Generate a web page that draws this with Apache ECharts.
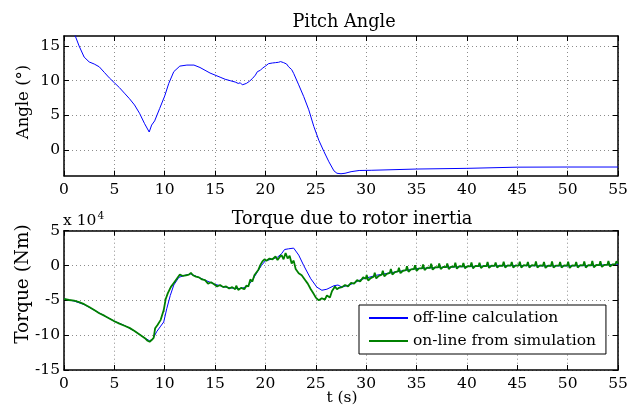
<!DOCTYPE html>
<html>
<head>
<meta charset="utf-8">
<script src="https://cdn.jsdelivr.net/npm/echarts@6/dist/echarts.min.js"></script>
<style>
html,body{margin:0;padding:0;background:#fff;}
#c{width:642px;height:408px;}
</style>
</head>
<body>
<div id="c"></div>
<script>
// ---- data ----
const xTicks = [0,5,10,15,20,25,30,35,40,45,50,55];
const pitchTicks = [0,5,10,15];
const torqueTicks = [-15,-10,-5,0,5];

const pitchAngle = [
 [0,20.0],[0.5,18.4],[1.0,16.9],[1.5,15.0],[2.0,13.4],[2.5,12.7],[3.0,12.4],[3.5,12.0],
 [4.0,11.2],[4.5,10.4],[5.0,9.7],[5.5,9.0],[6.0,8.2],[6.5,7.4],[7.0,6.5],[7.5,5.3],
 [8.0,3.8],[8.46,2.6],[8.7,3.6],[9.0,4.2],[9.5,6.0],[10.0,7.8],[10.4,9.6],[10.9,11.3],
 [11.5,12.1],[12.2,12.25],[12.9,12.25],[13.5,11.9],[14.0,11.5],[14.5,11.1],[15.0,10.8],
 [15.5,10.5],[16.0,10.2],[16.5,10.0],[17.0,9.8],[17.3,9.6],[17.5,9.7],[17.7,9.4],[18.1,9.6],
 [18.4,9.9],[18.7,10.3],[19.0,10.8],[19.2,11.3],[19.5,11.5],[19.7,11.8],[20.0,12.1],
 [20.3,12.45],[20.7,12.55],[21.0,12.6],[21.3,12.65],[21.5,12.75],[21.6,12.9],[21.8,12.6],
 [21.9,12.85],[22.1,12.4],[22.3,12.0],[22.6,11.6],[22.8,11.05],[23.3,9.4],[23.8,7.7],
 [24.3,5.8],[24.8,3.4],[25.3,1.4],[25.8,-0.2],[26.3,-1.7],[26.8,-3.0],[27.1,-3.35],
 [27.5,-3.42],[27.9,-3.35],[28.5,-3.12],[29.3,-2.95],[30.5,-2.92],[35,-2.74],[40,-2.64],
 [45,-2.47],[50,-2.45],[55,-2.45]
];

// torque in units of 1e4 Nm
const offlineTorque = [
 [0,-4.8],[1,-5.1],[2,-5.6],[3,-6.4],[4,-7.2],[5,-8.0],[6,-8.6],[7,-9.4],[7.6,-10.0],
 [8.0,-10.4],[8.5,-10.8],[8.8,-10.6],[9.2,-9.5],[9.6,-8.7],[9.9,-8.1],[10.2,-6.2],
 [10.55,-4.3],[10.9,-2.8],[11.4,-1.7],[12.0,-1.4],[12.6,-1.2],[13.2,-1.6],[14,-2.1],
 [15,-2.7],[16,-3.1],[17,-3.3],[17.6,-3.3],[18.2,-3.0],[18.7,-2.1],[19.2,-0.9],[19.6,0.0],
 [20,0.7],[20.6,0.9],[21.2,1.2],[21.6,1.7],[21.9,2.3],[22.3,2.4],[22.8,2.5],[23.3,1.5],
 [23.8,0.0],[24.5,-1.9],[25.1,-3.1],[25.6,-3.55],[26.1,-3.4],[26.8,-2.9],[27.2,-2.8],
 [27.6,-3.1],[28.5,-2.7],[29.5,-2.0],[31,-1.4],[33,-0.9],[35,-0.45],[37.5,-0.25],
 [40,-0.15],[42.5,-0.05],[45,0.0],[47.5,-0.05],[50,-0.05],[52.5,0.0],[55,0.2]
];

const onlineTorque = [
 [0,-4.8],[0.5,-4.95],[1,-5.05],[1.5,-5.25],[2,-5.55],[2.5,-5.95],[3,-6.4],[3.5,-6.85],
 [4,-7.2],[4.5,-7.6],[5,-8.0],[5.5,-8.35],[6,-8.65],[6.5,-8.95],[7,-9.4],[7.5,-9.9],
 [8,-10.4],[8.3,-10.8],[8.5,-10.95],[8.7,-10.7],[8.9,-10.4],[9.05,-9.0],[9.3,-8.5],
 [9.6,-7.8],[9.9,-6.4],[10.1,-4.8],[10.3,-4.0],[10.6,-3.1],[10.9,-2.5],[11.2,-1.9],
 [11.5,-1.3],[11.8,-1.5],[12.1,-1.4],[12.4,-1.3],[12.6,-1.05],[12.8,-1.4],[13.1,-1.6],
 [13.4,-1.7],[13.7,-2.0],[14.0,-2.1],[14.3,-2.6],[14.6,-2.4],[14.9,-2.7],[15.2,-3.0],
 [15.5,-2.8],[15.8,-3.1],[16.1,-3.0],[16.4,-3.3],[16.7,-3.1],[17.0,-3.4],[17.1,-2.9],
 [17.3,-3.5],[17.6,-3.2],[17.9,-3.4],[18.1,-2.9],[18.3,-3.0],[18.5,-2.0],[18.7,-2.3],
 [18.9,-1.4],[19.1,-1.0],[19.3,-0.6],[19.5,0.1],[19.7,0.6],[19.9,0.9],[20.1,0.7],
 [20.4,1.0],[20.7,0.9],[21.0,1.3],[21.2,0.8],[21.4,1.2],[21.6,1.5],[21.8,0.9],[22.0,1.8],
 [22.2,1.0],[22.4,1.4],[22.6,0.3],[22.8,0.7],[23.0,-0.5],[23.3,-1.1],[23.6,-1.4],
 [23.9,-2.0],[24.2,-2.6],[24.5,-3.4],[24.8,-4.1],[25.0,-4.6],[25.3,-5.0],[25.6,-4.7],
 [25.9,-4.9],[26.1,-4.3],[26.4,-4.6],[26.6,-3.7],[26.9,-3.0],[27.1,-3.4],[27.3,-3.2],
 [27.6,-3.1],[27.9,-2.8],[28.2,-3.0],[28.5,-2.5],[28.8,-2.6],[29.1,-2.1],[29.4,-2.3],
 [29.7,-1.7],
 [29.95,-1.9],[30.05,-1.35],[30.2,-2.15],[30.45,-1.8],
 [30.75,-1.6],[30.85,-1.05],[31.0,-1.85],[31.25,-1.5],
 [31.55,-1.3],[31.65,-0.75],[31.8,-1.55],[32.05,-1.2],
 [32.35,-1.05],[32.45,-0.5],[32.6,-1.3],[32.85,-0.95],
 [33.15,-0.85],[33.25,-0.3],[33.4,-1.1],[33.65,-0.75],
 [33.95,-0.65],[34.05,-0.1],[34.2,-0.9],[34.45,-0.55],
 [34.75,-0.5],[34.85,0.05],[35.0,-0.75],[35.25,-0.4],
 [35.55,-0.4],[35.65,0.15],[35.8,-0.65],[36.05,-0.3],
 [36.35,-0.32],[36.45,0.25],[36.6,-0.6],[36.85,-0.25],
 [37.15,-0.27],[37.25,0.3],[37.4,-0.5],[37.65,-0.2],
 [37.95,-0.22],[38.05,0.3],[38.2,-0.5],[38.45,-0.15],
 [38.75,-0.18],[38.85,0.4],[39.0,-0.45],[39.25,-0.1],
 [39.55,-0.15],[39.65,0.35],[39.8,-0.4],[40.05,-0.1],
 [40.35,-0.12],[40.45,0.45],[40.6,-0.4],[40.85,-0.05],
 [41.15,-0.1],[41.25,0.4],[41.4,-0.35],[41.65,-0.05],
 [41.95,-0.08],[42.05,0.5],[42.2,-0.35],[42.45,0.0],
 [42.75,-0.05],[42.85,0.45],[43.0,-0.3],[43.25,0.0],
 [43.55,-0.03],[43.65,0.55],[43.8,-0.3],[44.05,0.02],
 [44.35,-0.02],[44.45,0.5],[44.6,-0.3],[44.85,0.03],
 [45.15,0.0],[45.25,0.55],[45.4,-0.3],[45.65,0.05],
 [45.95,0.0],[46.05,0.5],[46.2,-0.3],[46.45,0.05],
 [46.75,-0.02],[46.85,0.6],[47.0,-0.3],[47.25,0.02],
 [47.55,-0.03],[47.65,0.5],[47.8,-0.35],[48.05,0.0],
 [48.35,-0.03],[48.45,0.6],[48.6,-0.3],[48.85,0.0],
 [49.15,-0.02],[49.25,0.5],[49.4,-0.3],[49.65,0.02],
 [49.95,-0.02],[50.05,0.55],[50.2,-0.35],[50.45,0.02],
 [50.75,0.0],[50.85,0.5],[51.0,-0.3],[51.25,0.05],
 [51.55,0.02],[51.65,0.6],[51.8,-0.3],[52.05,0.05],
 [52.35,0.04],[52.45,0.65],[52.6,-0.25],[52.85,0.08],
 [53.15,0.07],[53.25,0.6],[53.4,-0.2],[53.65,0.1],
 [53.95,0.1],[54.05,0.65],[54.2,-0.15],[54.45,0.15],
 [54.75,0.2],[54.85,0.6],[55.0,0.3]
];

const seriesNames = ['off-line calculation','on-line from simulation'];

// ---- chart ----
const FONT = 'DejaVu Serif';
const FS = 15.5;
const TFS = 17.7;
const chart = echarts.init(document.getElementById('c'), null, {renderer:'canvas'});

const gridLine = {show:true, lineStyle:{color:'#8c8c8c', type:[1,3], width:1}};
const frameLine = {show:true, onZero:false, lineStyle:{color:'#000', width:1.5}};
const tickIn = {show:true, inside:true, length:5, lineStyle:{color:'#000', width:1}};
const lbl = {fontFamily:FONT, fontSize:FS, color:'#000'};

function xMain(gi){
  return {type:'value', gridIndex:gi, min:0, max:55, interval:5, position:'bottom',
    axisLine:frameLine, axisTick:tickIn, splitLine:gridLine,
    axisLabel:Object.assign({margin:6, showMinLabel:true, showMaxLabel:true}, lbl)};
}
function xTop(gi){
  return {type:'value', gridIndex:gi, min:0, max:55, interval:5, position:'top',
    axisLine:frameLine, axisTick:tickIn, splitLine:{show:false}, axisLabel:{show:false}};
}

const option = {
  animation:false,
  backgroundColor:'#fff',
  grid:[
    {left:64, right:24, top:36, height:139.7},
    {left:64, right:24, top:230.7, height:139.3}
  ],
  xAxis:[xMain(0), xTop(0), xMain(1), xTop(1)],
  yAxis:[
    {type:'value', gridIndex:0, min:-3.7, max:16.44, position:'left',
      axisLine:frameLine,
      axisTick:Object.assign({customValues:pitchTicks}, tickIn),
      splitLine:gridLine,
      axisLabel:Object.assign({margin:4, customValues:pitchTicks}, lbl)},
    {type:'value', gridIndex:0, min:-3.7, max:16.44, position:'right',
      axisLine:frameLine,
      axisTick:Object.assign({customValues:pitchTicks}, tickIn),
      splitLine:{show:false}, axisLabel:{show:false}},
    {type:'value', gridIndex:1, min:-15, max:5, interval:5, position:'left',
      axisLine:frameLine, axisTick:tickIn, splitLine:gridLine,
      axisLabel:Object.assign({margin:4, showMinLabel:true, showMaxLabel:true}, lbl)},
    {type:'value', gridIndex:1, min:-15, max:5, interval:5, position:'right',
      axisLine:frameLine, axisTick:tickIn, splitLine:{show:false}, axisLabel:{show:false}}
  ],
  legend:{
    data:seriesNames,
    orient:'vertical', left:359, top:305,
    padding:[5,10,5,9], itemGap:7, itemWidth:39, itemHeight:14,
    backgroundColor:'#fff', borderColor:'#000', borderWidth:1, borderRadius:0,
    textStyle:{fontFamily:FONT, fontSize:FS, color:'#000', padding:[0,0,0,0]},
    itemStyle:{opacity:0}
  },
  series:[
    {type:'line', name:'pitch', xAxisIndex:0, yAxisIndex:0, data:pitchAngle,
      showSymbol:false, symbol:'none', lineStyle:{color:'#0000ff', width:1}, clip:true},
    {type:'line', name:seriesNames[0], xAxisIndex:2, yAxisIndex:2, data:offlineTorque,
      showSymbol:false, symbol:'none', color:'#0000ff', lineStyle:{color:'#0000ff', width:1}, clip:true},
    {type:'line', name:seriesNames[1], xAxisIndex:2, yAxisIndex:2, data:onlineTorque,
      showSymbol:false, symbol:'none', color:'#008000', lineStyle:{color:'#008000', width:1.8}, clip:true}
  ],
  graphic:[
    {type:'text', style:{text:'Pitch Angle', x:344, y:22, fontFamily:FONT, fontSize:TFS, fill:'#000', textAlign:'center', textVerticalAlign:'middle'}},
    {type:'text', style:{text:'Torque due to rotor inertia', x:352, y:219, fontFamily:FONT, fontSize:TFS, fill:'#000', textAlign:'center', textVerticalAlign:'middle'}},
    {type:'text', style:{text:'t (s)', x:342, y:398, fontFamily:FONT, fontSize:FS, fill:'#000', textAlign:'center', textVerticalAlign:'middle'}},
    {type:'text', rotation:Math.PI/2, x:24, y:102, style:{text:'Angle (°)', x:0, y:0, fontFamily:FONT, fontSize:16.5, fill:'#000', textAlign:'center', textVerticalAlign:'middle'}},
    {type:'text', rotation:Math.PI/2, x:23, y:284, style:{text:'Torque (Nm)', x:0, y:0, fontFamily:FONT, fontSize:18.5, fill:'#000', textAlign:'center', textVerticalAlign:'middle'}},
    {type:'text', x:63, y:221, style:{text:'{a|x 10}{b|4}', x:0, y:0, textVerticalAlign:'middle',
      rich:{a:{fontFamily:FONT, fontSize:FS, color:'#000'}, b:{fontFamily:FONT, fontSize:10.5, color:'#000', verticalAlign:'top', padding:[0,0,9,1]}}}}
  ]
};
chart.setOption(option);
</script>
</body>
</html>
